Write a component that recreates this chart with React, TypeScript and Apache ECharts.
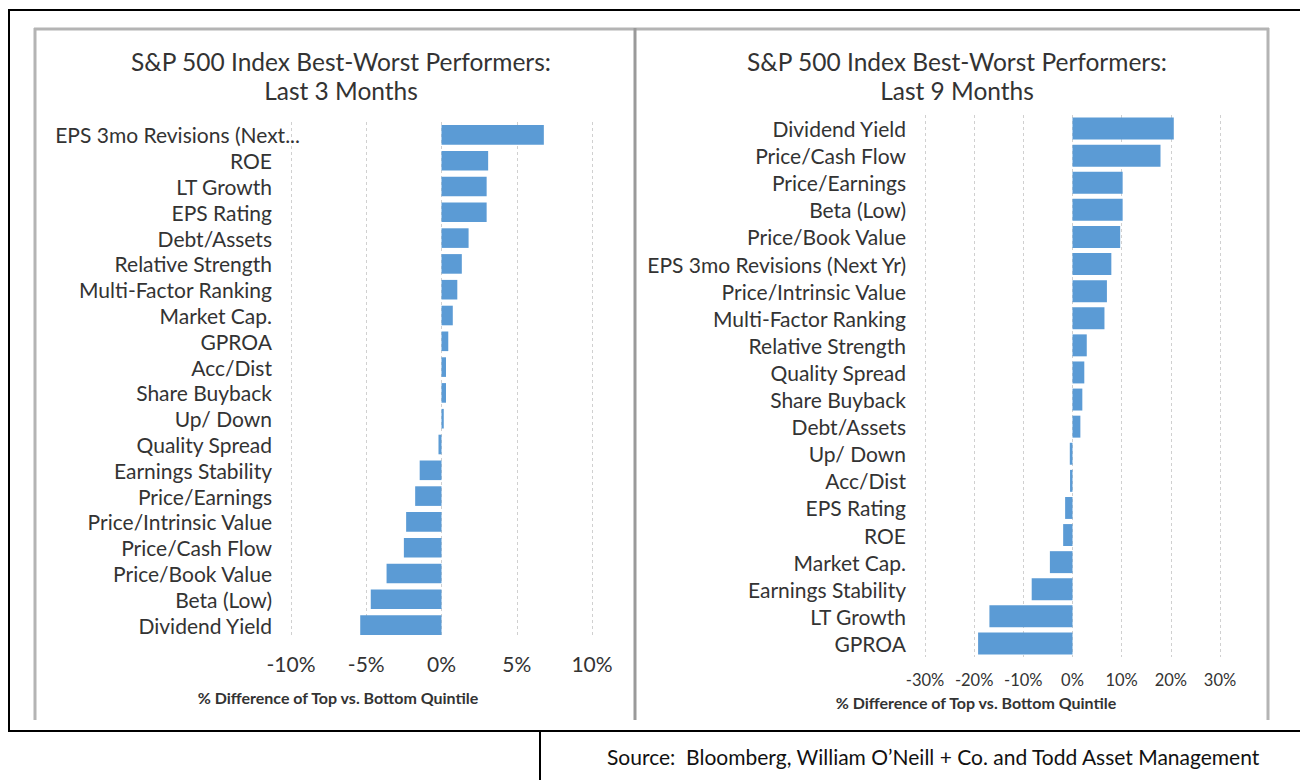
import React, { useEffect, useRef } from "react";
import * as echarts from "echarts";

const titleLeft = "S&P 500 Index Best-Worst Performers:\nLast 3 Months";
const titleRight = "S&P 500 Index Best-Worst Performers:\nLast 9 Months";
const axisName = "% Difference of Top vs. Bottom Quintile";
const sourceText = "Source:  Bloomberg, William O\u2019Neill + Co. and Todd Asset Management";

const leftCategories = [
  "EPS 3mo Revisions (Next Yr)", "ROE", "LT Growth", "EPS Rating", "Debt/Assets",
  "Relative Strength", "Multi-Factor Ranking", "Market Cap.", "GPROA", "Acc/Dist",
  "Share Buyback", "Up/ Down", "Quality Spread", "Earnings Stability", "Price/Earnings",
  "Price/Intrinsic Value", "Price/Cash Flow", "Price/Book Value", "Beta (Low)", "Dividend Yield",
];
const leftValues = [6.8, 3.1, 3.0, 3.0, 1.8, 1.35, 1.05, 0.75, 0.45, 0.3, 0.3, 0.15, -0.2, -1.45, -1.75, -2.35, -2.5, -3.65, -4.7, -5.4];

const rightCategories = [
  "Dividend Yield", "Price/Cash Flow", "Price/Earnings", "Beta (Low)", "Price/Book Value",
  "EPS 3mo Revisions (Next Yr)", "Price/Intrinsic Value", "Multi-Factor Ranking", "Relative Strength", "Quality Spread",
  "Share Buyback", "Debt/Assets", "Up/ Down", "Acc/Dist", "EPS Rating",
  "ROE", "Market Cap.", "Earnings Stability", "LT Growth", "GPROA",
];
const rightValues = [20.6, 17.9, 10.2, 10.2, 9.7, 7.9, 7.0, 6.5, 2.9, 2.4, 2.0, 1.6, -0.55, -0.5, -1.5, -1.9, -4.6, -8.3, -16.9, -19.2];

const FONT = "Lato";
const BLUE = "#5B9BD5";
const TXT = "#333333";

export default function App() {
  const ref = useRef<HTMLDivElement>(null);
  useEffect(() => {
    if (!ref.current) return;
    const chart = echarts.init(ref.current, null, { renderer: "svg" });
    const pct = (v: number) => `${v}%`;
    const splitLine = { show: true, lineStyle: { color: "#d0d0d0", type: [3, 3] as any, width: 1 } };
    const leftData = leftCategories.map((c) =>
      c.length > 24 ? { value: c, textStyle: { padding: [0, -28, 0, 0] } } : c
    );
    chart.setOption({
      animation: false,
      backgroundColor: "#ffffff",
      textStyle: { fontFamily: FONT },
      title: [
        {
          text: titleLeft, left: 336, top: 42, textAlign: "center",
          textStyle: { fontFamily: FONT, fontSize: 24.5, fontWeight: "normal", color: TXT, lineHeight: 29, align: "center" },
        },
        {
          text: titleRight, left: 952, top: 42, textAlign: "center",
          textStyle: { fontFamily: FONT, fontSize: 24.5, fontWeight: "normal", color: TXT, lineHeight: 29, align: "center" },
        },
      ],
      grid: [
        { left: 291, top: 122, width: 301, height: 516 },
        { left: 925, top: 115, width: 295, height: 542 },
      ],
      xAxis: [
        {
          gridIndex: 0, type: "value", min: -10, max: 10, interval: 5,
          axisLine: { show: false }, axisTick: { show: false }, splitLine,
          axisLabel: { formatter: pct, fontFamily: FONT, fontSize: 21, color: TXT, margin: 15 },
        },
        {
          gridIndex: 1, type: "value", min: -30, max: 30, interval: 10,
          axisLine: { show: false }, axisTick: { show: false }, splitLine,
          axisLabel: { formatter: pct, fontFamily: FONT, fontSize: 16.5, color: TXT, margin: 14 },
        },
      ],
      yAxis: [
        {
          gridIndex: 0, type: "category", inverse: true, data: leftData,
          axisLine: { show: false, onZero: false }, axisTick: { show: false },
          axisLabel: {
            interval: 0, fontFamily: FONT, fontSize: 21, color: TXT, margin: 19,
            formatter: (v: string) => (v.length > 24 ? v.slice(0, 23) + "..." : v),
          },
        },
        {
          gridIndex: 1, type: "category", inverse: true, data: rightCategories,
          axisLine: { show: false, onZero: false }, axisTick: { show: false },
          axisLabel: { interval: 0, fontFamily: FONT, fontSize: 21, color: TXT, margin: 19 },
        },
      ],
      series: [
        {
          type: "bar", xAxisIndex: 0, yAxisIndex: 0, data: leftValues,
          barCategoryGap: "24%", itemStyle: { color: BLUE },
        },
        {
          type: "bar", xAxisIndex: 1, yAxisIndex: 1, data: rightValues,
          barCategoryGap: "19%", itemStyle: { color: BLUE },
        },
      ],
      graphic: [
        { type: "line", shape: { x1: 8, y1: 10, x2: 1300, y2: 10 }, style: { stroke: "#000", lineWidth: 2 } },
        { type: "line", shape: { x1: 9, y1: 10, x2: 9, y2: 731 }, style: { stroke: "#000", lineWidth: 2 } },
        { type: "line", shape: { x1: 8, y1: 731, x2: 1300, y2: 731 }, style: { stroke: "#000", lineWidth: 2 } },
        { type: "line", shape: { x1: 540, y1: 731, x2: 540, y2: 780 }, style: { stroke: "#000", lineWidth: 2 } },
        { type: "line", shape: { x1: 34, y1: 29, x2: 1269, y2: 29 }, style: { stroke: "#b4b4b4", lineWidth: 3 } },
        { type: "line", shape: { x1: 35, y1: 28, x2: 35, y2: 720 }, style: { stroke: "#b4b4b4", lineWidth: 3 } },
        { type: "line", shape: { x1: 635, y1: 28, x2: 635, y2: 720 }, style: { stroke: "#9a9a9a", lineWidth: 3 } },
        { type: "line", shape: { x1: 1268, y1: 28, x2: 1268, y2: 720 }, style: { stroke: "#b4b4b4", lineWidth: 3 } },
        {
          type: "text", x: 338, y: 697,
          style: { text: axisName, fontFamily: FONT, fontSize: 16, fontWeight: "bold", fill: TXT, align: "center", verticalAlign: "middle" },
        },
        {
          type: "text", x: 976, y: 702,
          style: { text: axisName, fontFamily: FONT, fontSize: 16, fontWeight: "bold", fill: TXT, align: "center", verticalAlign: "middle" },
        },
        {
          type: "text", x: 607, y: 756,
          style: { text: sourceText, fontFamily: FONT, fontSize: 21, fill: "#111", align: "left", verticalAlign: "middle" },
        },
      ],
    });
    return () => chart.dispose();
  }, []);
  return <div ref={ref} style={{ position: "fixed", left: 0, top: 0, width: 1300, height: 780 }} />;
}
